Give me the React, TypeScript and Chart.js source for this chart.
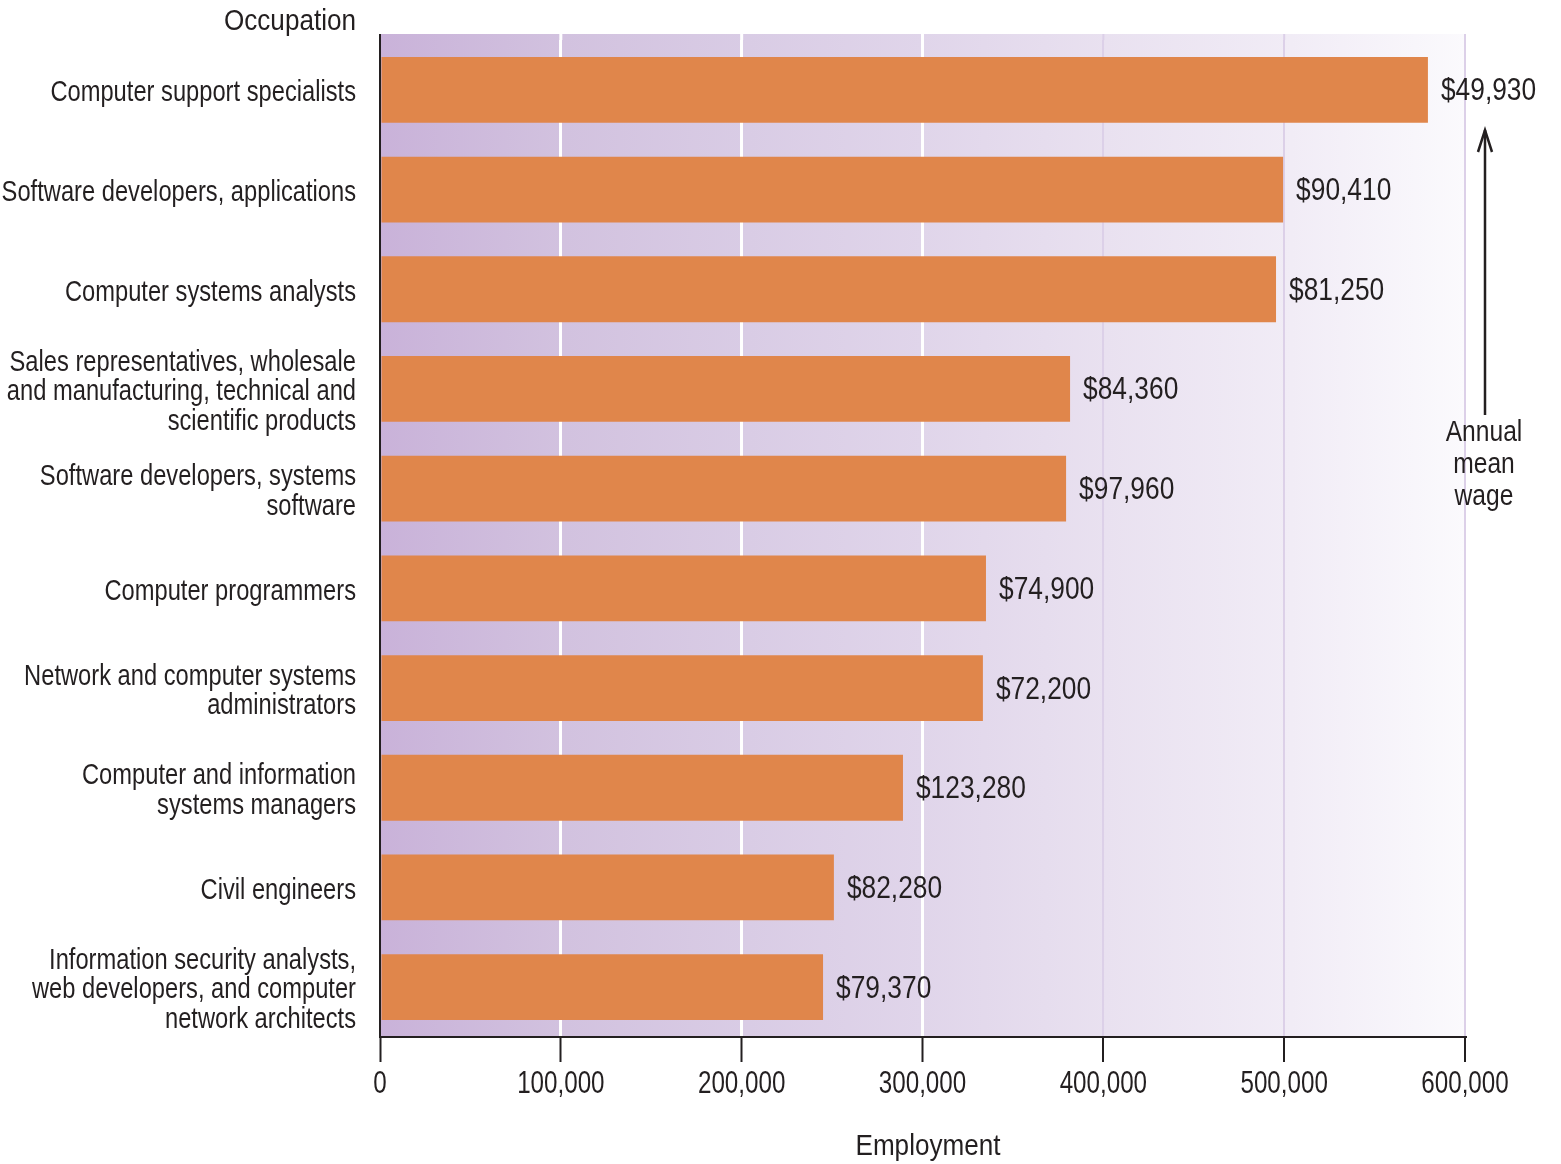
import React, { useEffect, useRef } from "react";
import { Chart, registerables } from "chart.js";

Chart.register(...registerables);

const occupations: string[][] = [
  ["Computer support specialists"],
  ["Software developers, applications"],
  ["Computer systems analysts"],
  ["Sales representatives, wholesale", "and manufacturing, technical and", "scientific products"],
  ["Software developers, systems", "software"],
  ["Computer programmers"],
  ["Network and computer systems", "administrators"],
  ["Computer and information", "systems managers"],
  ["Civil engineers"],
  ["Information security analysts,", "web developers, and computer", "network architects"],
];

const employment: number[] = [579500, 499400, 495500, 381600, 379400, 335100, 333400, 289200, 251000, 245000];

const wages: string[] = [
  "$49,930",
  "$90,410",
  "$81,250",
  "$84,360",
  "$97,960",
  "$74,900",
  "$72,200",
  "$123,280",
  "$82,280",
  "$79,370",
];

const xTicks: number[] = [0, 100000, 200000, 300000, 400000, 500000, 600000];

const FONT = "'Liberation Sans', Arial, sans-serif";
const TEXT = "#231f20";
const BAR = "#e0864b";

function drawText(
  ctx: CanvasRenderingContext2D,
  text: string,
  x: number,
  y: number,
  align: CanvasTextAlign,
  size: number,
  sx: number
) {
  ctx.save();
  ctx.translate(x, y);
  ctx.scale(sx, 1);
  ctx.font = `${size}px ${FONT}`;
  ctx.textAlign = align;
  ctx.textBaseline = "middle";
  ctx.fillStyle = TEXT;
  ctx.fillText(text, 0, 0);
  ctx.restore();
}

export default function App() {
  const ref = useRef<HTMLCanvasElement | null>(null);

  useEffect(() => {
    document.body.style.margin = "0";
    const canvas = ref.current;
    if (!canvas) return;

    const bgPlugin = {
      id: "bg",
      beforeDraw(chart: any) {
        const { ctx, chartArea } = chart;
        const top = chartArea.top - 6;
        const g = ctx.createLinearGradient(chartArea.left, 0, chartArea.right, 0);
        g.addColorStop(0, "#c9b2d9");
        g.addColorStop(0.17, "#d2c2df");
        g.addColorStop(0.34, "#d9cce5");
        g.addColorStop(0.5, "#e0d5ea");
        g.addColorStop(0.67, "#e9e1f0");
        g.addColorStop(0.84, "#f1ecf6");
        g.addColorStop(1, "#fbfafd");
        ctx.save();
        ctx.fillStyle = g;
        ctx.fillRect(chartArea.left, top, chartArea.right - chartArea.left, chartArea.bottom - top);
        const xs = chart.scales.x;
        xTicks.forEach((v) => {
          if (v === 0) return;
          const px = xs.getPixelForValue(v);
          ctx.strokeStyle = v <= 300000 ? "#ffffff" : "#dcd0e8";
          ctx.lineWidth = v <= 300000 ? 3 : 2;
          ctx.beginPath();
          ctx.moveTo(px, top);
          ctx.lineTo(px, chartArea.top);
          ctx.stroke();
        });
        ctx.strokeStyle = TEXT;
        ctx.lineWidth = 2;
        ctx.beginPath();
        ctx.moveTo(chartArea.left, top);
        ctx.lineTo(chartArea.left, chartArea.top);
        ctx.stroke();
        ctx.restore();
      },
    };

    const textPlugin = {
      id: "texts",
      afterDraw(chart: any) {
        const { ctx, chartArea } = chart;
        const meta = chart.getDatasetMeta(0);
        const ys = chart.scales.y;
        const xs = chart.scales.x;
        meta.data.forEach((bar: any, i: number) => {
          drawText(ctx, wages[i], bar.x + 13, bar.y + 2, "left", 31, 0.85);
        });
        occupations.forEach((lines, i) => {
          const cy = ys.getPixelForValue(i) + 3;
          const lh = 29.5;
          const start = cy - ((lines.length - 1) * lh) / 2;
          lines.forEach((ln, j) => {
            drawText(ctx, ln, chartArea.left - 24, start + j * lh, "right", 30, 0.79);
          });
        });
        xTicks.forEach((v) => {
          drawText(ctx, v.toLocaleString("en-US"), xs.getPixelForValue(v), 1084, "center", 31, 0.78);
        });
        drawText(ctx, "Occupation", chartArea.left - 24, 22, "right", 30, 0.87);
        drawText(ctx, "Employment", 928, 1147, "center", 30, 0.87);
        drawText(ctx, "Annual", 1484, 433, "center", 30, 0.82);
        drawText(ctx, "mean", 1484, 465, "center", 30, 0.82);
        drawText(ctx, "wage", 1484, 497, "center", 30, 0.82);
        ctx.save();
        ctx.strokeStyle = TEXT;
        ctx.lineWidth = 2.5;
        ctx.beginPath();
        ctx.moveTo(1485, 415);
        ctx.lineTo(1485, 130);
        ctx.stroke();
        ctx.beginPath();
        ctx.moveTo(1478, 152);
        ctx.lineTo(1485, 130);
        ctx.lineTo(1492, 152);
        ctx.stroke();
        ctx.restore();
      },
    };

    const chart = new Chart(canvas, {
      type: "bar",
      data: {
        labels: occupations.map((l) => l.join(" ")),
        datasets: [
          {
            data: employment,
            backgroundColor: BAR,
            borderWidth: 0,
            barPercentage: 0.66,
            categoryPercentage: 1,
          },
        ],
      },
      options: {
        indexAxis: "y",
        responsive: false,
        animation: false,
        layout: { padding: { left: 0, right: 96, top: 40, bottom: 0 } },
        plugins: {
          legend: { display: false },
          tooltip: { enabled: false },
        },
        scales: {
          x: {
            type: "linear",
            min: 0,
            max: 600000,
            afterBuildTicks(scale: any) {
              scale.ticks = xTicks.map((v) => ({ value: v }));
            },
            afterFit(scale: any) {
              scale.height = 127;
            },
            ticks: {
              color: "rgba(0,0,0,0)",
              font: { family: FONT, size: 20 },
              padding: 6,
              maxRotation: 0,
              callback: (v: any) => Number(v).toLocaleString("en-US"),
            },
            grid: {
              color: (c: any) => {
                const v = c.tick ? c.tick.value : 0;
                if (v === 0) return "rgba(0,0,0,0)";
                return v <= 300000 ? "#ffffff" : "#dcd0e8";
              },
              lineWidth: (c: any) => {
                const v = c.tick ? c.tick.value : 0;
                return v <= 300000 ? 3 : 2;
              },
              tickColor: TEXT,
              tickLength: 25,
              tickWidth: 2,
              drawOnChartArea: true,
            },
            border: { display: true, color: TEXT, width: 2 },
          },
          y: {
            afterFit(scale: any) {
              scale.width = 380;
            },
            ticks: { display: false },
            grid: { display: false, drawTicks: false },
            border: { display: true, color: TEXT, width: 2 },
          },
        },
      },
      plugins: [bgPlugin, textPlugin],
    });

    return () => chart.destroy();
  }, []);

  return (
    <div style={{ position: "absolute", left: 0, top: 0, width: 1561, height: 1164, background: "#fff" }}>
      <canvas ref={ref} width={1561} height={1164} />
    </div>
  );
}
